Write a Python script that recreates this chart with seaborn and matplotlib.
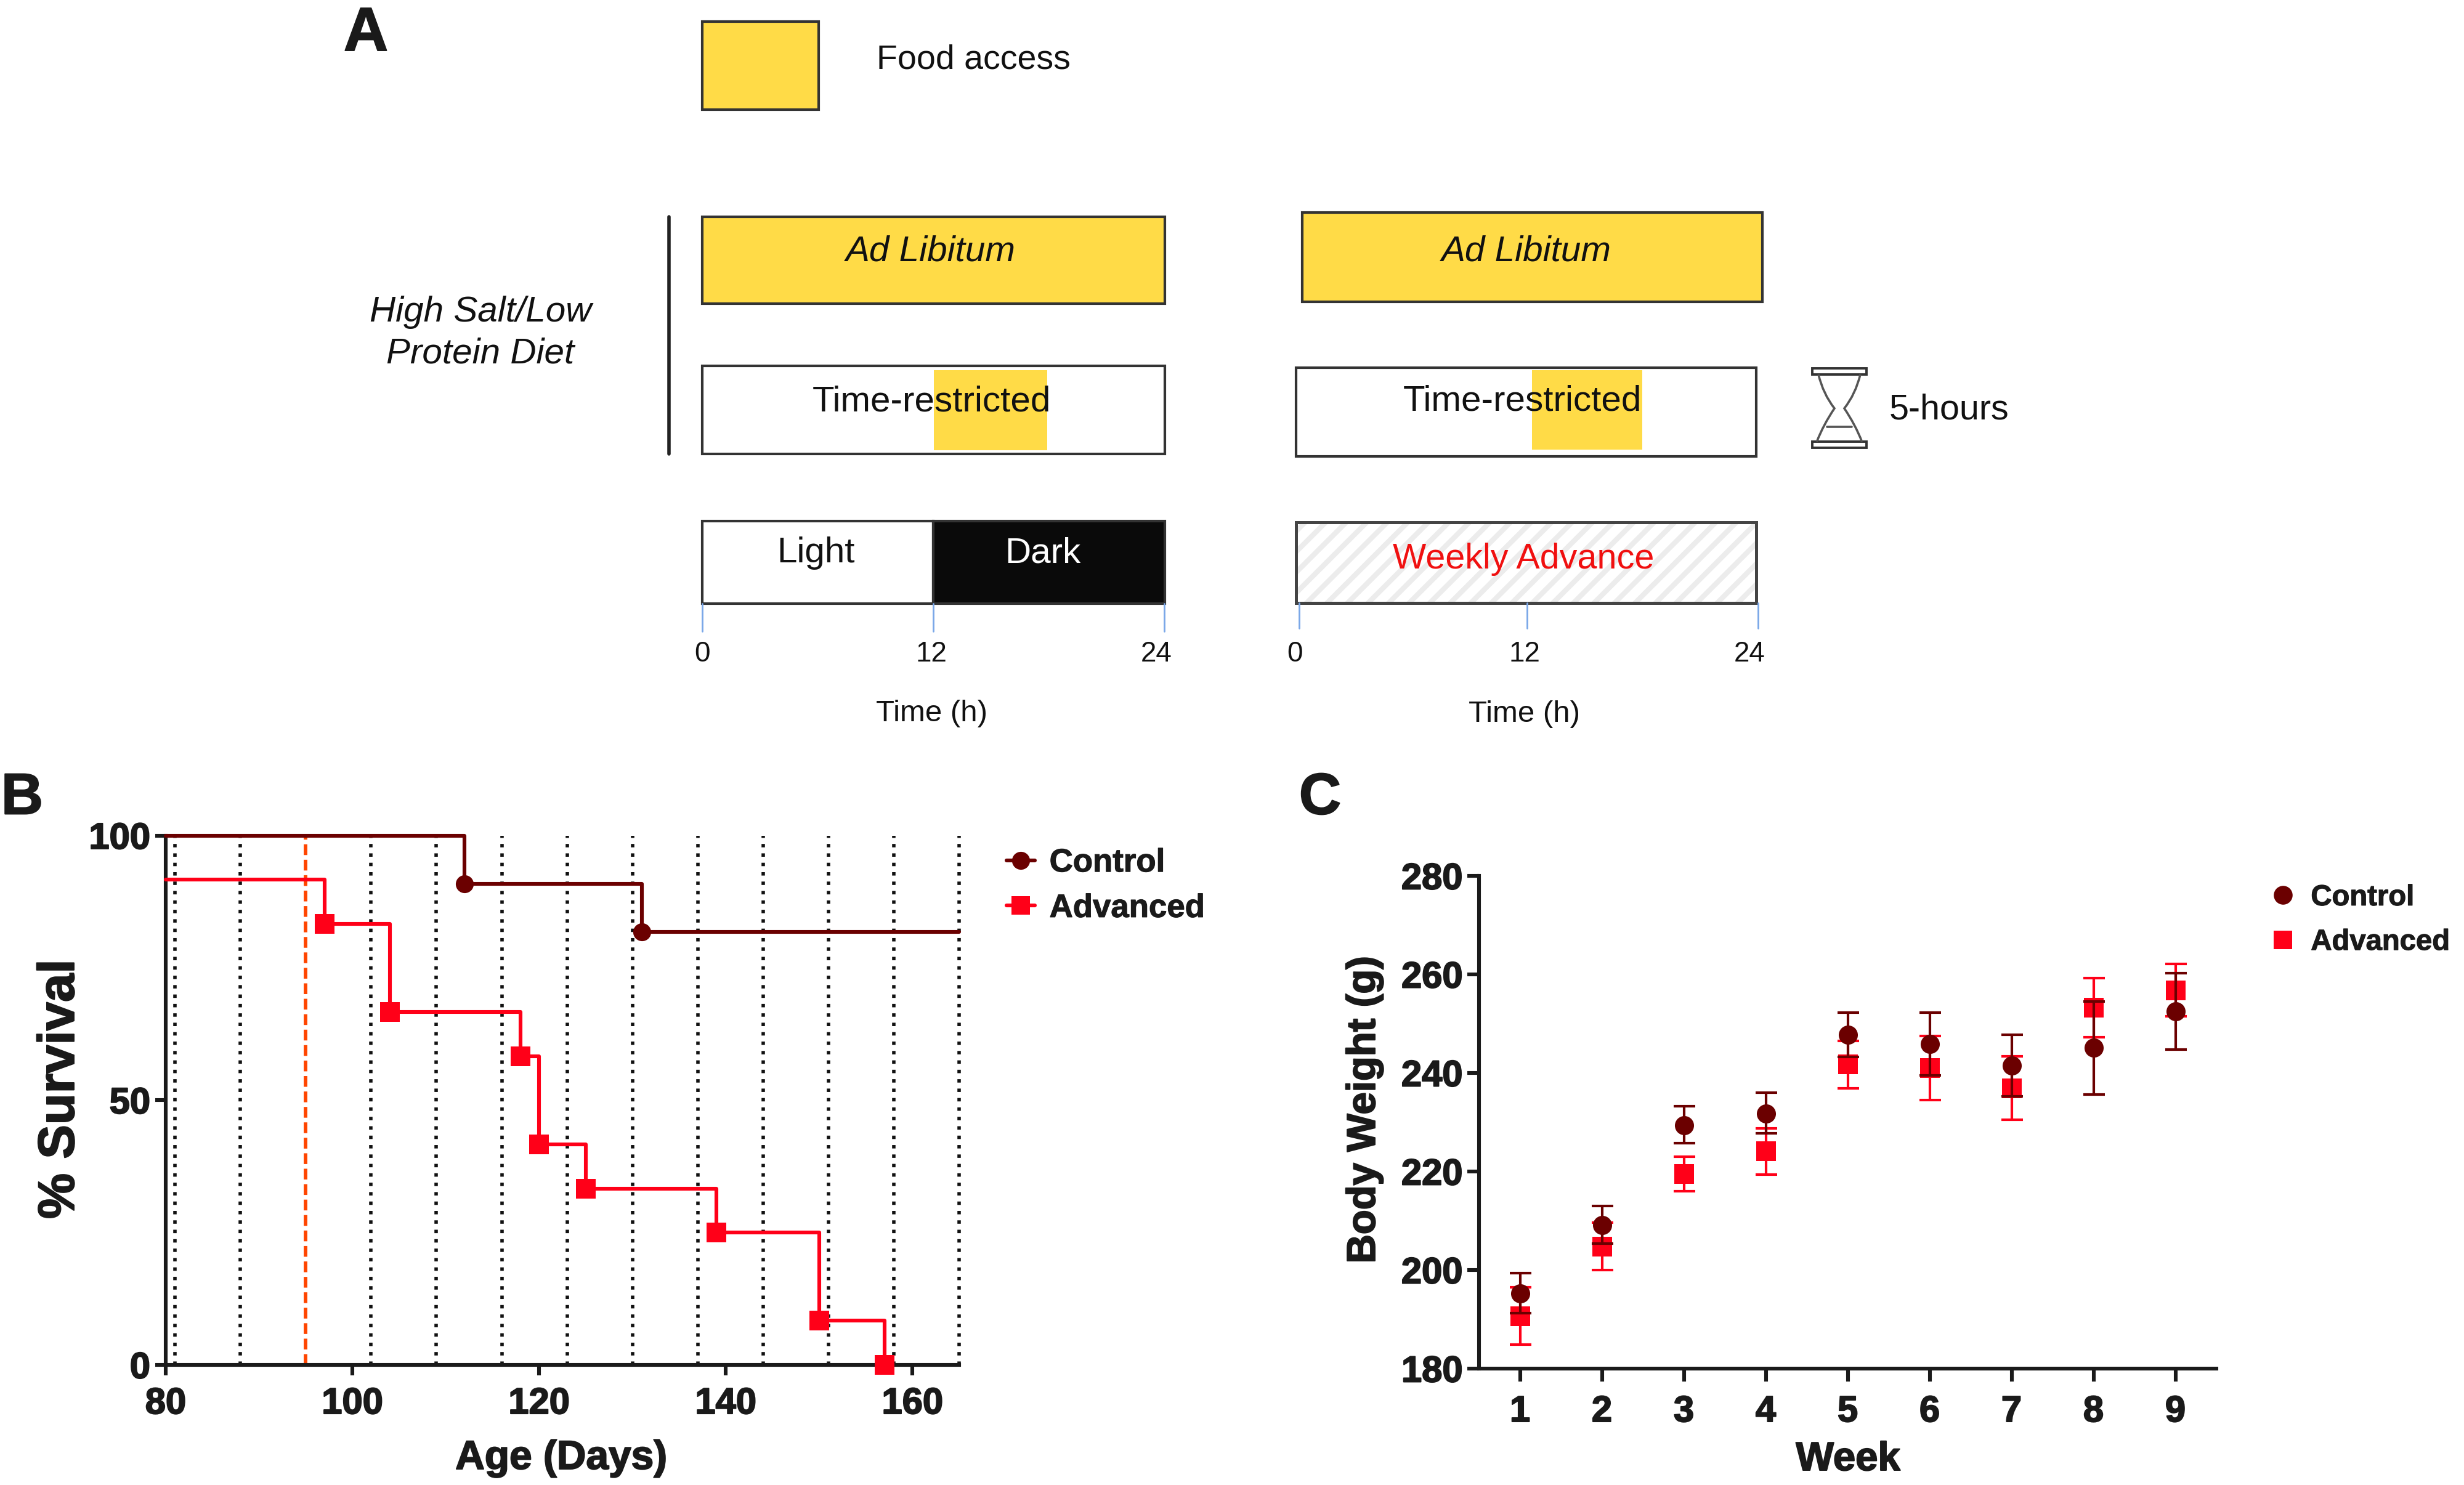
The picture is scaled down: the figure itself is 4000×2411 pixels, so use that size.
import numpy as np
import pandas as pd
import matplotlib
matplotlib.use('Agg')
import matplotlib.pyplot as plt
import matplotlib.patheffects as pe
import seaborn as sns
from matplotlib.lines import Line2D
from matplotlib.patches import Rectangle, PathPatch
from matplotlib.path import Path

# Panel B - survival steps
ctrl_age = [80, 112, 131, 165]
ctrl_surv = [100, 90.9, 81.8, 81.8]
adv_age = [80, 97, 104, 118, 120, 125, 139, 150, 157]
adv_surv = [91.67, 83.33, 66.67, 58.33, 41.67, 33.33, 25, 8.33, 0]
advance_days = [81, 88, 102, 109, 116, 123, 130, 137, 144, 151, 158, 165]
start_day = 95

# Panel C - body weight
weeks = [1, 2, 3, 4, 5, 6, 7, 8, 9]
ctrl_w = [195.3, 209.1, 229.4, 231.8, 247.7, 245.9, 241.5, 245.1, 252.5]
ctrl_hi = [199.4, 213.0, 233.3, 236.0, 252.3, 252.3, 247.7, 254.5, 260.2]
ctrl_lo = [191.3, 205.4, 225.7, 227.7, 243.2, 239.5, 235.2, 235.6, 244.7]
adv_w = [190.6, 204.7, 219.5, 224.1, 241.8, 241.0, 236.9, 253.2, 256.8]
adv_hi = [196.5, 209.6, 223.0, 228.7, 246.5, 247.5, 243.4, 259.2, 262.1]
adv_lo = [184.9, 200.0, 216.0, 219.4, 236.9, 234.5, 230.5, 247.2, 251.5]

hour_ticks = ['0', '12', '24']

DARK = '#6b0000'
RED = '#ff0018'
YELLOW = '#ffdb47'
INK = '#1a1a1a'
W, H = 4000, 2411
HEAVY = [pe.withStroke(linewidth=0.7, foreground=INK)]

sns.set_theme(style='ticks')
plt.rcParams['font.family'] = ['Liberation Sans', 'DejaVu Sans']
plt.rcParams['hatch.linewidth'] = 3

fig = plt.figure(figsize=(20, H / 200), dpi=200)

# overlay in image pixels, used for the schematic and for placing labels
ov = fig.add_axes([0, 0, 1, 1], zorder=0)
ov.set_xlim(0, W)
ov.set_ylim(H, 0)
ov.axis('off')


def axes_px(left, top, right, bottom):
    return fig.add_axes([left / W, 1 - bottom / H, (right - left) / W, (bottom - top) / H], zorder=2, facecolor='none')


def box(x0, y0, x1, y1, fc='none', ec='#333333', lw=1.5, **kw):
    ov.add_patch(Rectangle((x0, y0), x1 - x0, y1 - y0, facecolor=fc, edgecolor=ec, linewidth=lw, **kw))


def txt(x, y, s, size=21, **kw):
    kw.setdefault('ha', 'center')
    kw.setdefault('va', 'center')
    kw.setdefault('color', '#111111')
    # centred text sat a little high against the reference
    ov.text(x, y + 5, s, fontsize=size, **kw)


def hour_axis(xs, tick_top, tick_bottom, label_xs, label_y, time_x, time_y):
    for x in xs:
        ov.plot([x, x], [tick_top, tick_bottom], color='#7aa7e8', lw=1)
    for x, s in zip(label_xs, hour_ticks):
        txt(x, label_y, s, size=16.5)
    txt(time_x, time_y, 'Time (h)', size=17.7)


# --- Panel A
txt(594, 51, 'A', size=36, fontweight='bold', color=INK, path_effects=HEAVY)
box(1140, 35, 1329, 178, fc=YELLOW)
txt(1423, 92, 'Food access', size=20, ha='left')

ov.plot([1086, 1086], [352, 737], color='#222222', lw=2)
txt(780, 502, 'High Salt/Low', style='italic')
txt(780, 569, 'Protein Diet', style='italic')

box(1140, 352, 1891, 493, fc=YELLOW)
txt(1511, 403, 'Ad Libitum', style='italic')
box(1140, 594, 1891, 737, fc='white')
box(1516, 601, 1700, 731, fc=YELLOW, ec='none', lw=0)
txt(1512, 647, 'Time-restricted')
box(1140, 846, 1515, 980, fc='white')
box(1515, 846, 1891, 980, fc='#0a0a0a')
txt(1325, 893, 'Light')
txt(1693, 893, 'Dark', color='white')
hour_axis([1140, 1515, 1890], 980, 1025, [1140, 1512, 1877], 1057, 1512, 1153)

box(2114, 345, 2861, 490, fc=YELLOW)
txt(2478, 403, 'Ad Libitum', style='italic')
box(2104, 597, 2851, 741, fc='white')
box(2487, 601, 2666, 730, fc=YELLOW, ec='none', lw=0)
txt(2471, 646, 'Time-restricted')
box(2104, 848, 2851, 979, fc='white', ec='#ececec', lw=0, hatch='//')
box(2104, 848, 2851, 979, ec='#444444', lw=1.8)
txt(2473, 903, 'Weekly Advance', size=20.7, color='#f01010')
hour_axis([2109, 2479, 2854], 979, 1020, [2102, 2475, 2840], 1057, 2475, 1154)

# hourglass
box(2942, 598, 3030, 608, fc='white', lw=1.4)
box(2942, 717, 3030, 727, fc='white', lw=1.4)
for a, b in [(2952, 2978), (3020, 2994)]:
    verts = [(a, 608), (a + (b - a) * 0.3, 640), (b, 663), (a + (b - a) * 0.3, 690), (a - (b - a) * 0.1, 717)]
    codes = [Path.MOVETO, Path.CURVE3, Path.CURVE3, Path.CURVE3, Path.CURVE3]
    ov.add_patch(PathPatch(Path(verts, codes), fc='none', ec='#555555', lw=1.3))
ov.plot([2966, 3006], [693, 693], color='#555555', lw=1.3)
txt(3067, 660, '5-hours', size=20.7, ha='left')

# --- Panel B
txt(36, 1292, 'B', size=34, fontweight='bold', color=INK, path_effects=HEAVY)
axb = axes_px(269, 1356.5, 1557, 2216)
for d in advance_days:
    axb.axvline(d, color='#111111', lw=2, ls=(0, (1, 1.75)), zorder=1, clip_on=False)
axb.axvline(start_day, color='#ff4500', lw=2.1, ls=(0, (3, 1.3)), zorder=1)

df_c = pd.DataFrame({'age': ctrl_age, 'surv': ctrl_surv})
df_a = pd.DataFrame({'age': adv_age, 'surv': adv_surv})
sns.lineplot(data=df_c, x='age', y='surv', ax=axb, color=DARK, lw=2.2, estimator=None, sort=False,
             drawstyle='steps-post', clip_on=False, zorder=3)
sns.lineplot(data=df_a, x='age', y='surv', ax=axb, color=RED, lw=2.2, estimator=None, sort=False,
             drawstyle='steps-post', clip_on=False, zorder=3)
sns.scatterplot(data=df_c.iloc[1:-1], x='age', y='surv', ax=axb, color=DARK, marker='o', s=110, linewidth=0,
                clip_on=False, zorder=4)
sns.scatterplot(data=df_a.iloc[1:], x='age', y='surv', ax=axb, color=RED, marker='s', s=125, linewidth=0,
                clip_on=False, zorder=4)
axb.set_xlim(80, 165)
axb.set_ylim(0, 100)
axb.set_xticks([80, 100, 120, 140, 160])
axb.set_yticks([0, 50, 100])
axb.tick_params(axis='x', length=6, width=2.2, pad=7, labelsize=21.5, labelcolor=INK, color=INK)
axb.tick_params(axis='y', length=6, width=2.2, pad=3, labelsize=21.5, labelcolor=INK, color=INK)
axb.set_xlabel('Age (Days)', fontsize=23.7, fontweight='bold', color=INK, va='center', path_effects=HEAVY)
axb.set_ylabel('% Survival', fontsize=30, fontweight='bold', color=INK, va='center', path_effects=HEAVY)
axb.xaxis.set_label_coords(911, 2368, transform=ov.transData)
axb.yaxis.set_label_coords(98, 1768, transform=ov.transData)
handles_b = [Line2D([], [], color=DARK, marker='o', ms=10.5, lw=2.2, mew=0),
             Line2D([], [], color=RED, marker='s', ms=11, lw=2.2, mew=0)]
axb.legend(handles_b, ['Control', 'Advanced'], loc='center left', bbox_to_anchor=(1634, 1438),
           bbox_transform=ov.transData, frameon=False, handlelength=0.87, handletextpad=0.45,
           labelspacing=0.45, borderpad=0, borderaxespad=0, labelcolor=INK, prop={'weight': 'bold', 'size': 19})

# --- Panel C
txt(2143, 1292, 'C', size=34, fontweight='bold', color=INK, path_effects=HEAVY)
axc = axes_px(2401, 1422, 3598, 2222)
zo = 2
for mean, lo, hi, col, mk, sz in [(adv_w, adv_lo, adv_hi, RED, 's', 130), (ctrl_w, ctrl_lo, ctrl_hi, DARK, 'o', 125)]:
    mean, lo, hi = np.array(mean), np.array(lo), np.array(hi)
    axc.errorbar(weeks, mean, yerr=[mean - lo, hi - mean], fmt='none', ecolor=col, elinewidth=1.5, capsize=6.3,
                 capthick=1.5, zorder=zo)
    sns.scatterplot(x=weeks, y=mean, ax=axc, color=col, marker=mk, s=sz, linewidth=0, zorder=zo + 1)
    zo += 2
axc.set_xlim(0.5, 9.5)
axc.set_ylim(180, 280)
axc.set_xticks(weeks)
axc.set_yticks(range(180, 281, 20))
axc.tick_params(axis='x', length=7.5, width=2.2, pad=8, labelsize=21.5, labelcolor=INK, color=INK)
axc.tick_params(axis='y', length=7, width=2.2, pad=2.5, labelsize=21.5, labelcolor=INK, color=INK)
axc.set_xlabel('Week', fontsize=23.5, fontweight='bold', color=INK, va='center', path_effects=HEAVY)
axc.set_ylabel('Body Weight (g)', fontsize=23.5, fontweight='bold', color=INK, va='center', path_effects=HEAVY)
axc.xaxis.set_label_coords(3000, 2370, transform=ov.transData)
axc.yaxis.set_label_coords(2215, 1802, transform=ov.transData)
handles_c = [Line2D([], [], color=DARK, marker='o', ms=11, ls='none', mew=0),
             Line2D([], [], color=RED, marker='s', ms=11, ls='none', mew=0)]
axc.legend(handles_c, ['Control', 'Advanced'], loc='center left', bbox_to_anchor=(3682, 1494),
           bbox_transform=ov.transData, frameon=False, handlelength=1, handletextpad=0.47, labelspacing=0.6,
           borderpad=0, borderaxespad=0, labelcolor=INK, prop={'weight': 'bold', 'size': 17})

for ax in (axb, axc):
    sns.despine(ax=ax)
    ax.spines['left'].set_linewidth(2.2)
    ax.spines['bottom'].set_linewidth(2.2)
    ax.spines['left'].set_color(INK)
    ax.spines['bottom'].set_color(INK)
    for lab in ax.get_xticklabels() + ax.get_yticklabels():
        lab.set_fontweight('bold')
        lab.set_path_effects(HEAVY)
    for lab in ax.get_legend().get_texts():
        lab.set_path_effects([pe.withStroke(linewidth=0.4, foreground=INK)])

fig.savefig('out.png', dpi=200)
